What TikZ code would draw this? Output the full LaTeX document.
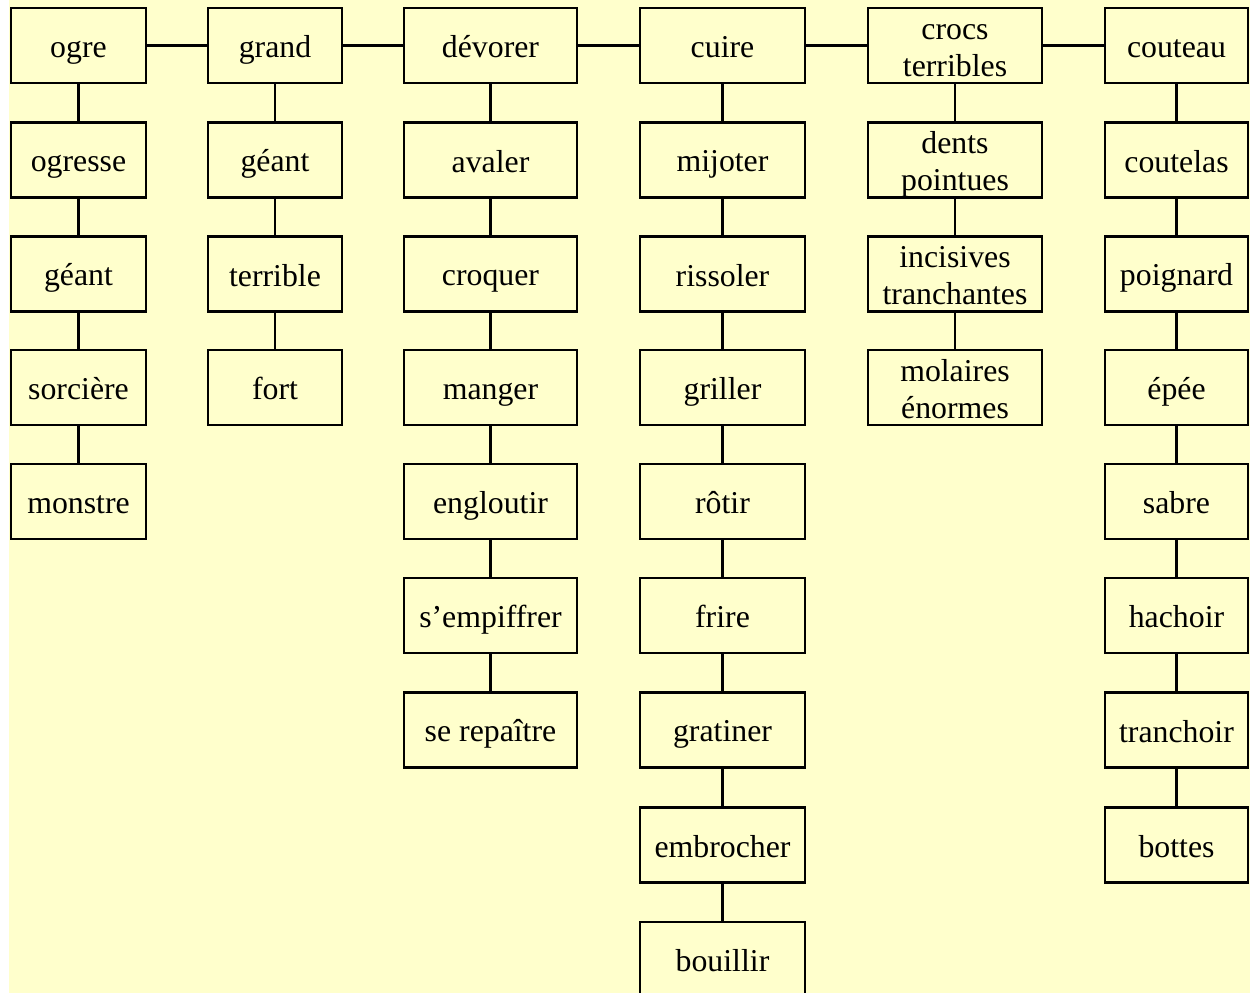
\documentclass[tikz,border=0pt]{standalone}
\usepackage{fontspec}
\setmainfont{Liberation Serif}
\definecolor{bgyellow}{HTML}{FFFFCC}
\newcommand{\ls}{\rule[-6pt]{0pt}{36pt}}
\begin{document}
\begin{tikzpicture}[x=1pt,y=-1pt,
  wbox/.style={draw, line width=2.4pt, fill=bgyellow, inner sep=0pt, minimum height=75pt, align=center, font=\fontsize{31.8}{37}\selectfont},
  link/.style={line width=2.4pt}]
\useasboundingbox (0,0) rectangle (1250,993);
\clip (0,0) rectangle (1250,993);
\fill[white] (0,0) rectangle (1250,993);
\fill[bgyellow] (9,0) rectangle (1250,993);
% column 1
\begin{scope}[every node/.style={wbox, minimum width=135pt}]
\node (ogre) at (78.5,45.5) {\ls ogre};
\node (ogresse) at (78.5,160) {\ls ogresse};
\node (geant1) at (78.5,274) {\ls géant};
\node (sorciere) at (78.5,387.5) {\ls sorcière};
\node (monstre) at (78.5,501.5) {\ls monstre};
\end{scope}
% column 2
\begin{scope}[every node/.style={wbox, minimum width=134pt}]
\node (grand) at (275,45.5) {\ls grand};
\node (geant2) at (275,160) {\ls géant};
\node (terrible) at (275,274) {\ls terrible};
\node (fort) at (275,387.5) {\ls fort};
\end{scope}
% column 3
\begin{scope}[every node/.style={wbox, minimum width=173pt}]
\node (devorer) at (490.5,45.5) {\ls dévorer};
\node (avaler) at (490.5,160) {\ls avaler};
\node (croquer) at (490.5,274) {\ls croquer};
\node (manger) at (490.5,387.5) {\ls manger};
\node (engloutir) at (490.5,501.5) {\ls engloutir};
\node (empiffrer) at (490.5,615.5) {\ls s’empiffrer};
\node (repaitre) at (490.5,730) {\ls se repaître};
\end{scope}
% column 4
\begin{scope}[every node/.style={wbox, minimum width=165pt}]
\node (cuire) at (722.5,45.5) {\ls cuire};
\node (mijoter) at (722.5,160) {\ls mijoter};
\node (rissoler) at (722.5,274) {\ls rissoler};
\node (griller) at (722.5,387.5) {\ls griller};
\node (rotir) at (722.5,501.5) {\ls rôtir};
\node (frire) at (722.5,615.5) {\ls frire};
\node (gratiner) at (722.5,730) {\ls gratiner};
\node (embrocher) at (722.5,845) {\ls embrocher};
\node (bouillir) at (722.5,959.5) {\ls bouillir};
\end{scope}
% column 5
\begin{scope}[every node/.style={wbox, minimum width=174pt}]
\node (crocs) at (955,45.5) {\ls crocs\\\ls terribles};
\node (dents) at (955,160) {\ls dents\\\ls pointues};
\node (incisives) at (955,274) {\ls incisives\\\ls tranchantes};
\node (molaires) at (955,387.5) {\ls molaires\\\ls énormes};
\end{scope}
% column 6
\begin{scope}[every node/.style={wbox, minimum width=143pt}]
\node (couteau) at (1176.5,45.5) {\ls couteau};
\node (coutelas) at (1176.5,160) {\ls coutelas};
\node (poignard) at (1176.5,274) {\ls poignard};
\node (epee) at (1176.5,387.5) {\ls épée};
\node (sabre) at (1176.5,501.5) {\ls sabre};
\node (hachoir) at (1176.5,615.5) {\ls hachoir};
\node (tranchoir) at (1176.5,730) {\ls tranchoir};
\node (bottes) at (1176.5,845) {\ls bottes};
\end{scope}
% connectors
\draw[link] (ogre) -- (grand);
\draw[link] (grand) -- (devorer);
\draw[link] (devorer) -- (cuire);
\draw[link] (cuire) -- (crocs);
\draw[link] (crocs) -- (couteau);
\draw[link] (ogre) -- (ogresse);
\draw[link] (ogresse) -- (geant1);
\draw[link] (geant1) -- (sorciere);
\draw[link] (sorciere) -- (monstre);
\draw[link] (grand) -- (geant2);
\draw[link] (geant2) -- (terrible);
\draw[link] (terrible) -- (fort);
\draw[link] (devorer) -- (avaler);
\draw[link] (avaler) -- (croquer);
\draw[link] (croquer) -- (manger);
\draw[link] (manger) -- (engloutir);
\draw[link] (engloutir) -- (empiffrer);
\draw[link] (empiffrer) -- (repaitre);
\draw[link] (cuire) -- (mijoter);
\draw[link] (mijoter) -- (rissoler);
\draw[link] (rissoler) -- (griller);
\draw[link] (griller) -- (rotir);
\draw[link] (rotir) -- (frire);
\draw[link] (frire) -- (gratiner);
\draw[link] (gratiner) -- (embrocher);
\draw[link] (embrocher) -- (bouillir);
\draw[link] (crocs) -- (dents);
\draw[link] (dents) -- (incisives);
\draw[link] (incisives) -- (molaires);
\draw[link] (couteau) -- (coutelas);
\draw[link] (coutelas) -- (poignard);
\draw[link] (poignard) -- (epee);
\draw[link] (epee) -- (sabre);
\draw[link] (sabre) -- (hachoir);
\draw[link] (hachoir) -- (tranchoir);
\draw[link] (tranchoir) -- (bottes);
\end{tikzpicture}
\end{document}
